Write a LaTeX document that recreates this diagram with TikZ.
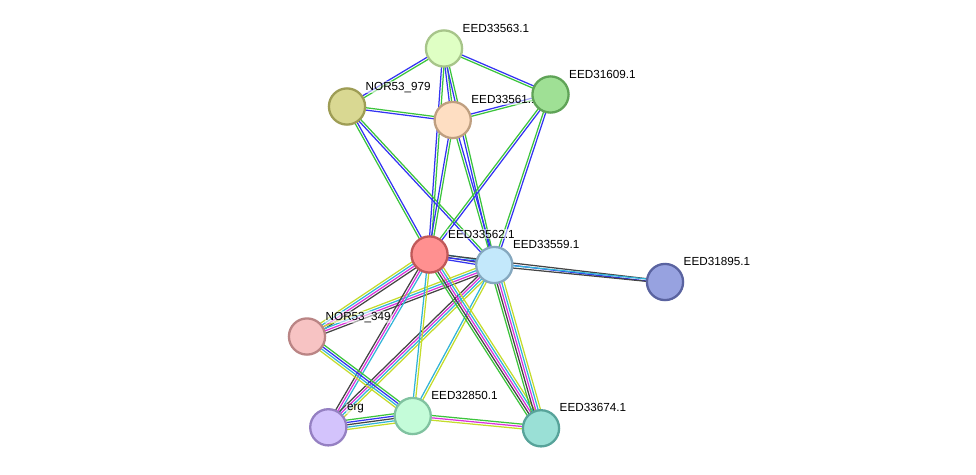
\documentclass[tikz,border=0pt]{standalone}
\usepackage{fontspec}
\setmainfont{Liberation Sans}
\usetikzlibrary{calc}
\pgfdeclarelayer{edges}
\pgfdeclarelayer{labels}
\pgfsetlayers{edges,labels,main}
\definecolor{cgreen}{HTML}{3CC43C}
\definecolor{cblue}{HTML}{3434F2}
\definecolor{cyel}{HTML}{C4DC2C}
\definecolor{cmag}{HTML}{DC32DC}
\definecolor{ccyan}{HTML}{32B4D8}
\definecolor{cblk}{HTML}{444444}
\definecolor{f63}{HTML}{DFFFC4}\definecolor{b63}{HTML}{A7C58A}
\definecolor{f609}{HTML}{9FE095}\definecolor{b609}{HTML}{5FA357}
\definecolor{f979}{HTML}{D9D892}\definecolor{b979}{HTML}{9E9D55}
\definecolor{f61}{HTML}{FEDEC2}\definecolor{b61}{HTML}{BF9F80}
\definecolor{f62}{HTML}{FF9090}\definecolor{b62}{HTML}{C05858}
\definecolor{f59}{HTML}{C3E8FB}\definecolor{b59}{HTML}{85A8BF}
\definecolor{f895}{HTML}{97A2E0}\definecolor{b895}{HTML}{5A63A0}
\definecolor{f349}{HTML}{F7C3C3}\definecolor{b349}{HTML}{BA8585}
\definecolor{ferg}{HTML}{D3C3FC}\definecolor{berg}{HTML}{9580C2}
\definecolor{f850}{HTML}{C4FCD9}\definecolor{b850}{HTML}{80C2A0}
\definecolor{f674}{HTML}{9AE0D6}\definecolor{b674}{HTML}{57A39A}
\newcommand\medge[4]{%
  \foreach \cc [count=\ii] in {#4} {%
    \pgfmathsetmacro\oo{(\ii-(#3+1)/2)*2.35}%
    \draw[eline,\cc] ($(#1.center)!\oo pt!90:(#2.center)$) -- ($(#2.center)!\oo pt!-90:(#1.center)$);
  }%
}
\newcommand\plabel[2]{%
  \node[lbl] at ($(#1.center)+(17.7,-16.4)$) {#2};%
}
\begin{document}
\begin{tikzpicture}[x=1pt,y=-1pt,
  prot/.style={circle, minimum size=36.2pt, inner sep=0pt, line width=2.3pt},
  lbl/.style={anchor=base west, inner sep=0.8pt, fill=white, fill opacity=0.55, text opacity=1, font=\fontsize{11.7}{13}\selectfont},
  eline/.style={line width=1.25pt}]
\useasboundingbox (0,0) rectangle (976,474);
% nodes
\node[prot, fill=f63, draw=b63] (n63) at (444,48.5) {};
\node[prot, fill=f609, draw=b609] (n609) at (550.5,94.5) {};
\node[prot, fill=f979, draw=b979] (n979) at (347,106.5) {};
\node[prot, fill=f61, draw=b61] (n61) at (452.7,120) {};
\node[prot, fill=f62, draw=b62] (n62) at (429.5,254.5) {};
\node[prot, fill=f59, draw=b59] (n59) at (494.3,265) {};
\node[prot, fill=f895, draw=b895] (n895) at (665,282) {};
\node[prot, fill=f349, draw=b349] (n349) at (307,336.5) {};
\node[prot, fill=ferg, draw=berg] (erg) at (328.3,427.3) {};
\node[prot, fill=f850, draw=b850] (n850) at (412.7,416) {};
\node[prot, fill=f674, draw=b674] (n674) at (541,428.3) {};
% labels
\begin{pgfonlayer}{labels}
\plabel{n63}{EED33563.1}
\plabel{n609}{EED31609.1}
\plabel{n979}{NOR53\_979}
\plabel{n61}{EED33561.1}
\plabel{n62}{EED33562.1}
\plabel{n59}{EED33559.1}
\plabel{n895}{EED31895.1}
\plabel{n349}{NOR53\_349}
\plabel{erg}{erg}
\plabel{n850}{EED32850.1}
\plabel{n674}{EED33674.1}
\end{pgfonlayer}
% edges
\begin{pgfonlayer}{edges}
\medge{n63}{n979}{2}{cblue,cgreen}
\medge{n63}{n609}{2}{cgreen,cblue}
\medge{n63}{n61}{2}{cblue,cgreen}
\medge{n63}{n62}{2}{cblue,cgreen}
\medge{n63}{n59}{2}{cblue,cgreen}
\medge{n979}{n61}{2}{cblue,cgreen}
\medge{n979}{n62}{2}{cgreen,cblue}
\medge{n979}{n59}{2}{cblue,cgreen}
\medge{n61}{n609}{2}{cgreen,cblue}
\medge{n61}{n62}{2}{cblue,cgreen}
\medge{n61}{n59}{2}{cgreen,cblue}
\medge{n609}{n62}{2}{cgreen,cblue}
\medge{n609}{n59}{2}{cgreen,cblue}
\medge{n62}{n59}{3}{cblue,cblk,ccyan}
\medge{n62}{n895}{2}{cblue,cblk}
\medge{n59}{n895}{2}{cblk,ccyan}
\medge{n62}{n349}{4}{cyel,ccyan,cmag,cblk}
\medge{n59}{n349}{4}{cyel,ccyan,cmag,cblk}
\medge{n62}{erg}{3}{cblk,cmag,ccyan}
\medge{n59}{erg}{4}{cblk,cmag,ccyan,cyel}
\medge{n62}{n850}{2}{ccyan,cyel}
\medge{n59}{n850}{2}{ccyan,cyel}
\medge{n62}{n674}{5}{cgreen,cblk,cmag,ccyan,cyel}
\medge{n59}{n674}{5}{cgreen,cblk,cmag,ccyan,cyel}
\medge{n349}{n850}{4}{cyel,ccyan,cblue,cgreen}
\medge{erg}{n850}{5}{cyel,ccyan,cblk,cblue,cgreen}
\medge{n850}{n674}{3}{cyel,cmag,cgreen}
\end{pgfonlayer}
\end{tikzpicture}
\end{document}
